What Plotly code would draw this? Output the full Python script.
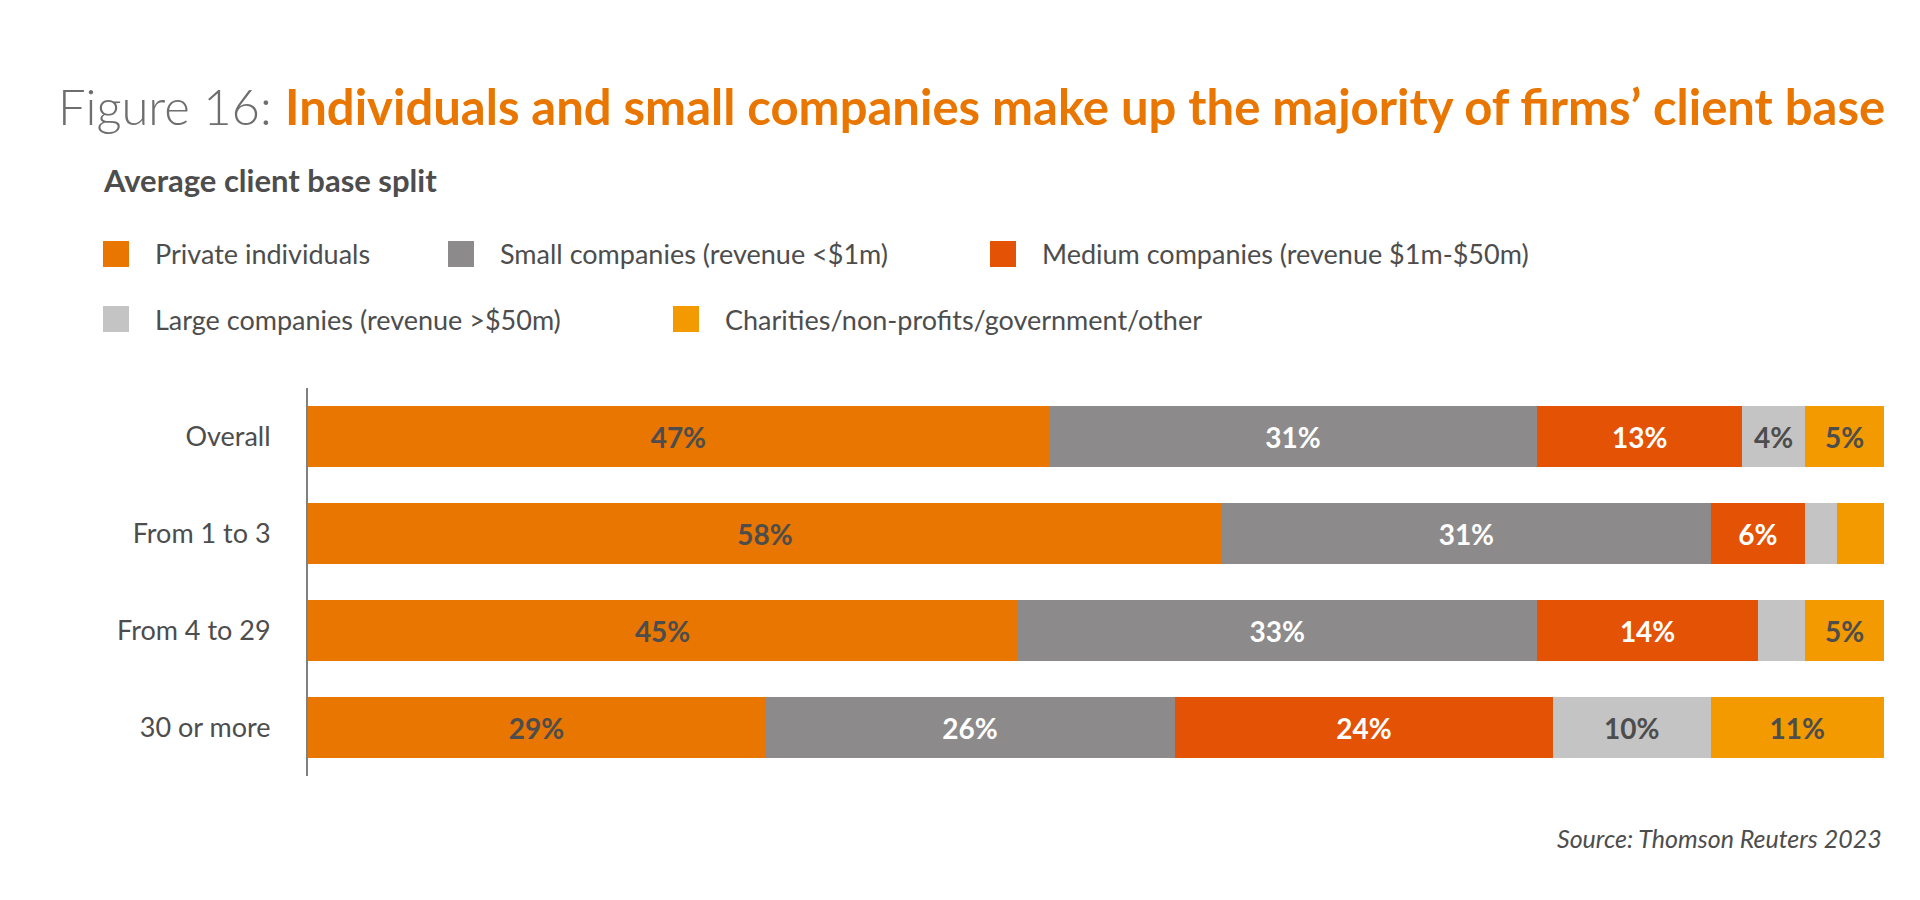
import plotly.graph_objects as go

groups = ["Overall", "From 1 to 3", "From 4 to 29", "30 or more"]
series = ["Private individuals", "Small companies (revenue <$1m)",
          "Medium companies (revenue $1m-$50m)", "Large companies (revenue >$50m)",
          "Charities/non-profits/government/other"]
private = [47, 58, 45, 29]
small = [31, 31, 33, 26]
medium = [13, 6, 14, 24]
large = [4, 2, 3, 10]
charities = [5, 3, 5, 11]
show_label = [[True, True, True, True], [True, True, True, True], [True, True, True, True],
              [True, False, False, True], [True, False, True, True]]

colors = ["#E87600", "#8C8A8A", "#E35205", "#C4C4C4", "#F29A00"]
label_colors = ["#4D4D4D", "white", "white", "#4D4D4D", "#4D4D4D"]
values = [private, small, medium, large, charities]
FONT = "Lato"

L, R, T, B = 300, 44, 380, 132
PW, PH = 1920 - L - R, 900 - T - B

fig = go.Figure()
for i, (name, vals) in enumerate(zip(series, values)):
    fig.add_trace(go.Bar(
        y=groups, x=vals, name=name, orientation="h",
        marker=dict(color=colors[i], line=dict(width=0)),
        text=[f"{v}%" if show_label[i][j] else "" for j, v in enumerate(vals)],
        textposition="inside", insidetextanchor="middle",
        textfont=dict(family=FONT, size=28, color=label_colors[i], weight="bold"),
        hoverinfo="skip",
    ))

fig.update_layout(
    barmode="stack", bargap=0.37, showlegend=False,
    width=1920, height=900,
    paper_bgcolor="white", plot_bgcolor="white",
    margin=dict(l=L, r=R, t=T, b=B),
    font=dict(family=FONT, color="#4D4D4D"),
    uniformtext=dict(minsize=10, mode="show"),
)
fig.update_xaxes(range=[0, 100], visible=False)
fig.update_yaxes(autorange="reversed", showline=True, linecolor="#808080", linewidth=2,
                 ticks="", tickfont=dict(size=27, color="#4D4D4D"), ticklabelstandoff=30)

# title and subtitle
fig.add_annotation(xref="paper", yref="paper", x=(48 - L) / PW, y=(900 - B - 98) / PH,
                   xanchor="left", yanchor="middle", showarrow=False,
                   text="<span style='color:#6E6E6E;font-weight:300'>Figure 16: </span>"
                        "<b style='color:#E87600'>Individuals and small companies make up the majority of firms’ client base</b>",
                   font=dict(size=49, family=FONT))
fig.add_annotation(xref="paper", yref="paper", x=(93 - L) / PW, y=(900 - B - 172) / PH,
                   xanchor="left", yanchor="middle", showarrow=False,
                   text="<b>Average client base split</b>",
                   font=dict(size=31, color="#4D4D4D"))

# legend built from shapes and text
leg_pos = [(95, 246), (440, 246), (982, 246), (95, 311), (665, 311)]
for i, (px, py) in enumerate(leg_pos):
    x0 = (px - L) / PW
    yc = (900 - B - py) / PH
    fig.add_shape(type="rect", xref="paper", yref="paper",
                  x0=x0, x1=x0 + 26 / PW, y0=yc - 13 / PH, y1=yc + 13 / PH,
                  fillcolor=colors[i], line=dict(width=0))
    fig.add_annotation(xref="paper", yref="paper", x=x0 + 50 / PW, y=yc,
                       xanchor="left", yanchor="middle", showarrow=False,
                       text=series[i], font=dict(size=27, color="#4D4D4D"))

fig.add_annotation(xref="paper", yref="paper", x=1, y=(900 - B - 830) / PH,
                   xanchor="right", yanchor="middle", showarrow=False,
                   text="<i>Source: Thomson Reuters 2023</i>",
                   font=dict(size=25, color="#4D4D4D"))

fig.write_html("out.html")
